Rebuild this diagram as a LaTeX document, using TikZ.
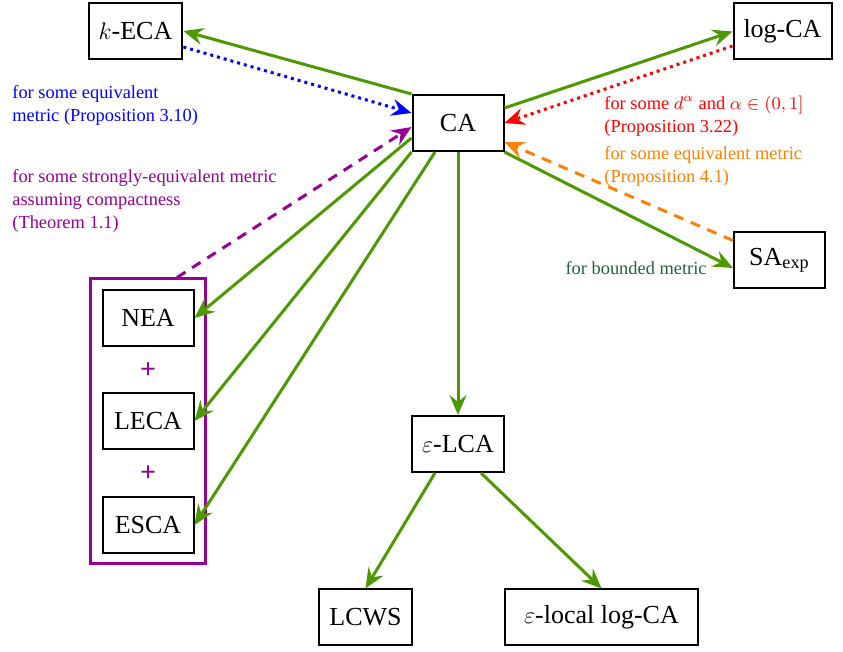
\documentclass[tikz,border=0pt]{standalone}
\usepackage{amsmath}
\usepackage{fontspec}
\setmainfont{Liberation Serif}
\usepackage{tikz}
\usetikzlibrary{positioning,arrows.meta,fit}
\definecolor{impgreen}{RGB}{77,153,0}
\definecolor{lblgreen}{RGB}{30,100,60}
\definecolor{grpviolet}{RGB}{150,0,150}

\begin{document}
\begin{tikzpicture}[x=0.5pt,y=-0.5pt]
            \tikzstyle{box}=[draw,line width=1pt,minimum width=45.5pt,minimum height=28pt,inner xsep=5pt,font=\fontsize{13}{15}\selectfont]
            \tikzstyle{lbl}=[inner sep=0pt,align=left,anchor=west,font=\fontsize{9.2}{11.5}\selectfont]
            \tikzstyle{imp}=[-{Stealth[length=10pt,width=8.5pt,inset=3.5pt]},line width=1.5pt,draw=impgreen]
            \tikzstyle{weak}=[-{Stealth[length=10pt,width=8.5pt,inset=3.5pt]},line width=1.5pt]
            \useasboundingbox (0,0) rectangle (843,652);

            \node[box] (kECA) at (135.5,31) {$k$-ECA};
            \node[box] (CA) at (458,123) {CA};
            \node[box] (logCA) at (782.5,31.5) {$\log$-CA};
            \node[box] (SA) at (779.5,260.5) {SA$_{\exp}$};
            \node[box] (NEA) at (148,318) {NEA};
            \node[box] (LECA) at (148,421) {LECA};
            \node[box] (ESCA) at (148,525) {ESCA};
            \node[box] (eLCA) at (458,444) {$\varepsilon$-LCA};
            \node[box] (LCWS) at (365.5,617.5) {LCWS};
            \node[box,minimum width=96.5pt] (eloc) at (601.5,617.5) {$\varepsilon$-local $\log$-CA};

            % the three notions together
            \node[fit=(NEA)(ESCA),draw=grpviolet,line width=1.5pt,inner xsep=5.5pt,inner ysep=5pt] (grp) {};
            \node[text=grpviolet,font=\bfseries\fontsize{14}{16}\selectfont] (pl1) at (148,371) {+};
            \node[text=grpviolet,font=\bfseries\fontsize{14}{16}\selectfont] (pl2) at (148,474) {+};

            \node[lbl,text=blue] (lb1) at (12,105) {for some equivalent\\metric (Proposition 3.10)};
            \node[lbl,text=grpviolet] (lb2) at (12,201) {for some strongly-equivalent metric\\assuming compactness\\(Theorem 1.1)};
            \node[lbl,text=red] (lb3) at (604,116) {for some $d^\alpha$ and $\alpha\in(0,1]$\\(Proposition 3.22)};
            \node[lbl,text=orange] (lb4) at (604,166) {for some equivalent metric\\(Proposition 4.1)};
            \node[lbl,text=lblgreen,anchor=east] (lb5) at (707,268.5) {for bounded metric};

            \draw[imp] (CA.north west) -- (kECA.east);
            \draw[imp] ([yshift=7.5pt]CA.east) -- (logCA.west);
            \draw[imp] (CA.south east) -- ([yshift=-3.75pt]SA.west);
            \draw[imp] ([yshift=-7.5pt]CA.west) -- (NEA.east);
            \draw[imp] (CA.south west) -- (LECA.east);
            \draw[imp] ([xshift=-11.5pt]CA.south) -- (ESCA.east);
            \draw[imp] (CA) -- (eLCA);
            \draw[imp] ([xshift=-11.5pt]eLCA.south) -- (LCWS.north);
            \draw[imp] ([xshift=11.5pt]eLCA.south) -- (eloc.north);

            % converse directions
            \draw[weak,blue,dotted] ([yshift=-8pt]kECA.east) -- ([yshift=5pt]CA.west);
            \draw[weak,red,dotted] ([yshift=-7.25pt]logCA.west) -- (CA.east);
            \draw[weak,orange,dash pattern=on 5pt off 4pt] ([yshift=10pt]SA.west) -- ([yshift=-9.5pt]CA.east);
            \draw[weak,grpviolet,dash pattern=on 5pt off 4pt] ([xshift=14.5pt]grp.north) -- ([yshift=-2pt]CA.west);
        \end{tikzpicture}
\end{document}
